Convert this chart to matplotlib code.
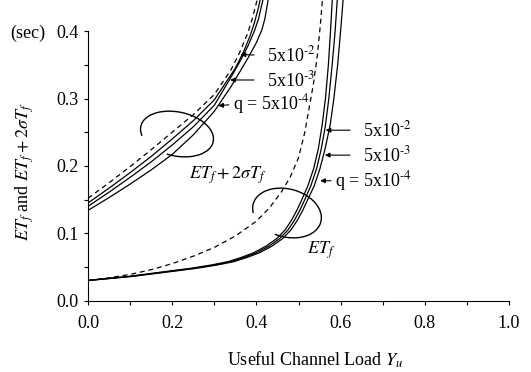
import matplotlib
matplotlib.use("Agg")
import matplotlib.pyplot as plt
from matplotlib.patches import Arc
from matplotlib.transforms import IdentityTransform

plt.rcParams['font.family'] = ['Liberation Serif', 'DejaVu Serif']
plt.rcParams['mathtext.fontset'] = 'stix'

# ---- data: ET_f + 2 sigma T_f (upper bundle) ----
up_dash_x = [0, 0.05, 0.10, 0.15, 0.20, 0.25, 0.30, 0.34, 0.36, 0.38, 0.39, 0.40, 0.41]
up_dash_y = [0.152, 0.175, 0.199, 0.224, 0.250, 0.276, 0.306, 0.343, 0.368, 0.398, 0.418, 0.442, 0.470]
up_q2_x = [0, 0.05, 0.10, 0.15, 0.20, 0.25, 0.30, 0.35, 0.37, 0.385, 0.395, 0.405, 0.415]
up_q2_y = [0.145, 0.167, 0.190, 0.214, 0.240, 0.267, 0.298, 0.345, 0.370, 0.393, 0.412, 0.435, 0.465]
up_q3_x = [0, 0.05, 0.10, 0.15, 0.20, 0.25, 0.30, 0.34, 0.36, 0.38, 0.395, 0.405, 0.415, 0.422]
up_q3_y = [0.140, 0.161, 0.183, 0.206, 0.231, 0.258, 0.290, 0.332, 0.354, 0.378, 0.400, 0.418, 0.445, 0.470]
up_q4_x = [0, 0.05, 0.10, 0.15, 0.20, 0.25, 0.30, 0.34, 0.38, 0.40, 0.413, 0.42, 0.427, 0.433]
up_q4_y = [0.134, 0.153, 0.173, 0.194, 0.217, 0.246, 0.281, 0.318, 0.360, 0.383, 0.402, 0.418, 0.443, 0.470]

# ---- data: ET_f (lower bundle) ----
lo_dash_x = [0, 0.05, 0.10, 0.15, 0.20, 0.25, 0.30, 0.35, 0.40, 0.43, 0.46, 0.48, 0.50,
             0.515, 0.525, 0.535, 0.545, 0.552, 0.558]
lo_dash_y = [0.030, 0.034, 0.039, 0.046, 0.055, 0.066, 0.079, 0.096, 0.118, 0.137, 0.162,
             0.183, 0.212, 0.250, 0.285, 0.320, 0.365, 0.410, 0.455]
lo_y = [0.030, 0.033, 0.036, 0.040, 0.044, 0.048, 0.053, 0.058, 0.064, 0.071, 0.081, 0.092,
        0.105, 0.119, 0.134, 0.150, 0.170, 0.196, 0.225, 0.260, 0.300, 0.350, 0.400, 0.455]
lo_q2_x = [0, 0.047, 0.095, 0.144, 0.193, 0.243, 0.293, 0.333, 0.363, 0.393, 0.423, 0.448,
           0.468, 0.483, 0.496, 0.508, 0.522, 0.536, 0.547, 0.556, 0.564, 0.571, 0.576, 0.581]
lo_q3_x = [0, 0.050, 0.100, 0.150, 0.200, 0.250, 0.300, 0.340, 0.370, 0.400, 0.430, 0.455,
           0.475, 0.490, 0.503, 0.515, 0.529, 0.543, 0.554, 0.564, 0.572, 0.580, 0.587, 0.593]
lo_q4_x = [0, 0.053, 0.105, 0.156, 0.207, 0.257, 0.307, 0.347, 0.377, 0.407, 0.437, 0.462,
           0.482, 0.497, 0.510, 0.522, 0.537, 0.551, 0.563, 0.575, 0.584, 0.593, 0.600, 0.607]

x_ticks = [0.0, 0.2, 0.4, 0.6, 0.8, 1.0]
y_ticks = [0.0, 0.1, 0.2, 0.3, 0.4]

W, H = 531, 372
fig = plt.figure(figsize=(W / 100, H / 100), dpi=100)
ax = fig.add_axes([88 / W, (H - 300.7) / H, 421 / W, 300.7 / H])

lw = 0.9
dash = (0, (4, 3))
ax.plot(up_dash_x, up_dash_y, color='black', lw=lw, linestyle=dash)
ax.plot(up_q2_x, up_q2_y, color='black', lw=lw)
ax.plot(up_q3_x, up_q3_y, color='black', lw=lw)
ax.plot(up_q4_x, up_q4_y, color='black', lw=lw)
ax.plot(lo_dash_x, lo_dash_y, color='black', lw=lw, linestyle=dash)
ax.plot(lo_q2_x, lo_y, color='black', lw=lw)
ax.plot(lo_q3_x, lo_y, color='black', lw=lw)
ax.plot(lo_q4_x, lo_y, color='black', lw=lw)

ax.set_xlim(0, 1.0)
ax.set_ylim(0, 0.4462)
ax.spines['top'].set_visible(False)
ax.spines['right'].set_visible(False)
ax.spines['left'].set_bounds(0, 0.4)
ax.set_xticks(x_ticks)
ax.set_xticklabels([f"{v:.1f}" for v in x_ticks])
ax.set_yticks(y_ticks)
ax.set_yticklabels([f"{v:.1f}" for v in y_ticks])
ax.set_xticks([0.1, 0.3, 0.5, 0.7, 0.9], minor=True)
ax.set_yticks([0.05, 0.15, 0.25, 0.35], minor=True)
ax.tick_params(which='both', direction='out', length=3, width=0.8, labelsize=13)
ax.tick_params(axis='x', pad=7)

fs = 13
arrowkw = dict(arrowstyle='-|>', color='black', lw=0.8, mutation_scale=7)

def arrow(xt, yt, xa, ya):
    ax.annotate('', xy=(xa, ya), xytext=(xt, yt), arrowprops=arrowkw)

# upper bundle labels
ax.text(0.425, 0.3645, r'5x10$^{\text{-}2}$', fontsize=fs, va='center', ha='left')
arrow(0.401, 0.3645, 0.356, 0.3655)
ax.text(0.425, 0.3275, r'5x10$^{\text{-}3}$', fontsize=fs, va='center', ha='left')
arrow(0.401, 0.3275, 0.331, 0.3275)
ax.text(0.344, 0.292, r'q = 5x10$^{\text{-}4}$', fontsize=fs, va='center', ha='left')
arrow(0.341, 0.291, 0.303, 0.289)

# lower bundle labels
ax.text(0.653, 0.253, r'5x10$^{\text{-}2}$', fontsize=fs, va='center', ha='left')
arrow(0.629, 0.253, 0.558, 0.253)
ax.text(0.653, 0.216, r'5x10$^{\text{-}3}$', fontsize=fs, va='center', ha='left')
arrow(0.629, 0.216, 0.556, 0.216)
ax.text(0.587, 0.178, r'q = 5x10$^{\text{-}4}$', fontsize=fs, va='center', ha='left')
arrow(0.584, 0.178, 0.545, 0.178)

# curve-group labels
ax.text((228 - 88) / 421, (300.7 - 175) / 674, r'$ET_f + 2\sigma T_f$', fontsize=fs,
        ha='center', va='center')
ax.text((321 - 88) / 421, (300.7 - 250) / 674, r'$ET_f$', fontsize=fs,
        ha='center', va='center')

# loops (drawn in pixel space, centred on data-space anchors)
def loop(xc, yc, a, b, ang):
    cx, cy = ax.transData.transform((xc, yc))
    arc = Arc((cx, cy), 2 * a, 2 * b, angle=ang, theta1=-105, theta2=195,
              transform=IdentityTransform(), color='black', lw=1.0)
    fig.add_artist(arc)

loop((177 - 88) / 421, (300.7 - 134) / 674, 37, 22, -12)
loop((287 - 88) / 421, (300.7 - 213) / 674, 35, 24, -15)

fig.text(10 / W, (H - 33) / H, '(sec)', fontsize=fs, va='center', ha='left')
fig.text(25 / W, (H - 172) / H, r'$ET_f$ and $ET_f + 2\sigma T_f$', fontsize=fs,
         rotation=90, va='center', ha='center')
fig.text(315 / W, (H - 360) / H, r'Useful Channel Load $Y_u$', fontsize=fs,
         va='center', ha='center')

fig.savefig('out.png', dpi=100)
